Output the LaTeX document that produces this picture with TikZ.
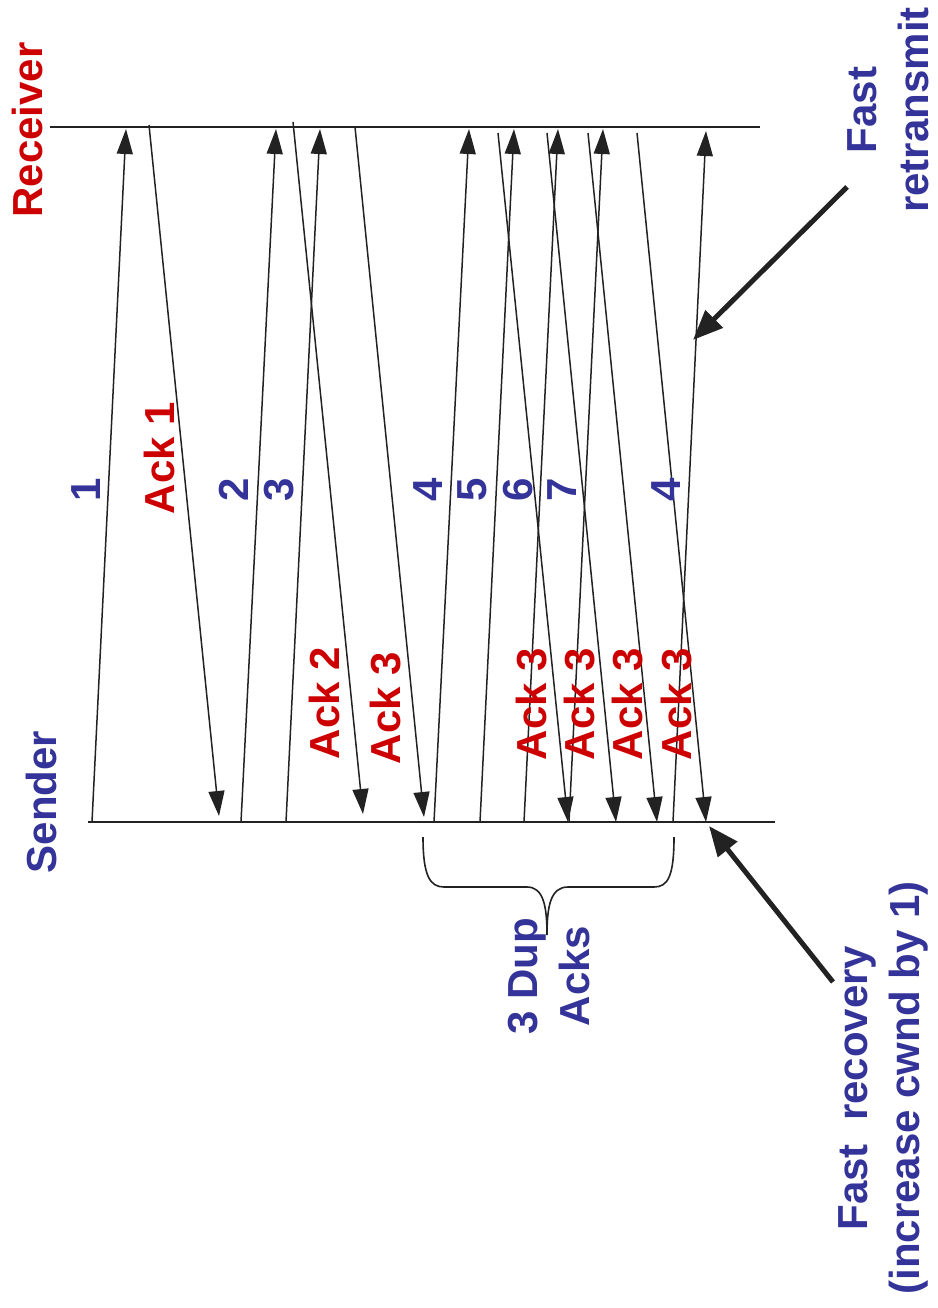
\documentclass[tikz,border=0pt]{standalone}
\usepackage{fontspec}
\setmainfont{Liberation Sans}
\usetikzlibrary{arrows.meta}
\definecolor{ackred}{RGB}{204,0,0}
\definecolor{segblue}{RGB}{51,51,153}
\definecolor{ink}{RGB}{34,34,34}
\begin{document}
\begin{tikzpicture}[x=1pt,y=-1pt,
  lbl/.style={rotate=90,inner sep=0pt,align=center,
    font=\fontsize{42}{52}\selectfont\bfseries},
  seglbl/.style={lbl,text=segblue},
  acklbl/.style={lbl,text=ackred},
  timeline/.style={draw=ink,line width=2pt},
  msg/.style={draw=ink,line width=1.5pt,-{Triangle[length=25pt,width=16pt]}},
  callout/.style={draw=ink,line width=5pt,-{Triangle[length=30pt,width=24pt]}},
  brace/.style={draw=ink,line width=1.6pt}]
\useasboundingbox (0,0) rectangle (937,1308);

% time lines
\coordinate (rcvL) at (50,127);  \coordinate (rcvR) at (760,127);
\coordinate (sndL) at (88,822);  \coordinate (sndR) at (775,822);
\draw[timeline] (rcvL) -- (rcvR);
\draw[timeline] (sndL) -- (sndR);

% data segments (sender -> receiver)
\coordinate (d1s) at (92,822);   \coordinate (d1r) at (126,129);
\coordinate (d2s) at (241,822);  \coordinate (d2r) at (276,129);
\coordinate (d3s) at (286,822);  \coordinate (d3r) at (320,129);
\coordinate (d4s) at (434,822);  \coordinate (d4r) at (469,129);
\coordinate (d5s) at (480,822);  \coordinate (d5r) at (514,129);
\coordinate (d6s) at (524,822);  \coordinate (d6r) at (558,129);
\coordinate (d7s) at (569,822);  \coordinate (d7r) at (603,129);
\coordinate (d8s) at (673,822);  \coordinate (d8r) at (706,131);
\foreach \i in {1,...,8}{ \draw[msg] (d\i s) -- (d\i r); }

% acknowledgements (receiver -> sender)
\coordinate (a1r) at (149,125);  \coordinate (a1s) at (219,816);
\coordinate (a2r) at (293,122);  \coordinate (a2s) at (363,814);
\coordinate (a3r) at (355,127);  \coordinate (a3s) at (424,817);
\coordinate (a4r) at (498,133);  \coordinate (a4s) at (568,822);
\coordinate (a5r) at (547,133);  \coordinate (a5s) at (616,822);
\coordinate (a6r) at (588,133);  \coordinate (a6s) at (657,822);
\coordinate (a7r) at (637,133);  \coordinate (a7s) at (706,822);
\foreach \i in {1,...,7}{ \draw[msg] (a\i r) -- (a\i s); }

% end point labels
\node[acklbl] (receiver) at (27,130) {Receiver};
\node[seglbl] (sender) at (41,802) {Sender};

% segment labels
\node[seglbl] (n1) at (86,490) {1};
\node[seglbl] (n2) at (234,490) {2};
\node[seglbl] (n3) at (279,490) {3};
\node[seglbl] (n4) at (428,490) {4};
\node[seglbl] (n5) at (472,490) {5};
\node[seglbl] (n6) at (518,490) {6};
\node[seglbl] (n7) at (562,490) {7};
\node[seglbl] (n8) at (666,490) {4};

% ack labels
\node[acklbl] (k1) at (159,458) {Ack 1};
\node[acklbl] (k2) at (324,703) {Ack 2};
\node[acklbl] (k3) at (386,708) {Ack 3};
\node[acklbl] (k4) at (532,704) {Ack 3};
\node[acklbl] (k5) at (580,704) {Ack 3};
\node[acklbl] (k6) at (628,704) {Ack 3};
\node[acklbl] (k7) at (677,704) {Ack 3};

% brace grouping the duplicate acks
\draw[brace] (423,837) .. controls (423,876) and (430,887) .. (444,887)
  -- (527,887) .. controls (543,887) and (547,905) .. (547,935)
  .. controls (547,905) and (551,887) .. (568,887)
  -- (654,887) .. controls (668,887) and (674,876) .. (674,837);
\node[seglbl] (dup) at (549,976) {3 Dup\\Acks};

% annotations
\node[seglbl] (fr) at (888,110) {Fast\\retransmit};
\coordinate (frFrom) at (847,187); \coordinate (frTo) at (693,340);
\draw[callout] (frFrom) -- (frTo);

\node[seglbl] (fc) at (883,1088) {Fast\ \ recovery\\(increase cwnd by 1)};
\coordinate (fcFrom) at (833,982); \coordinate (fcTo) at (709,826);
\draw[callout] (fcFrom) -- (fcTo);
\end{tikzpicture}
\end{document}
